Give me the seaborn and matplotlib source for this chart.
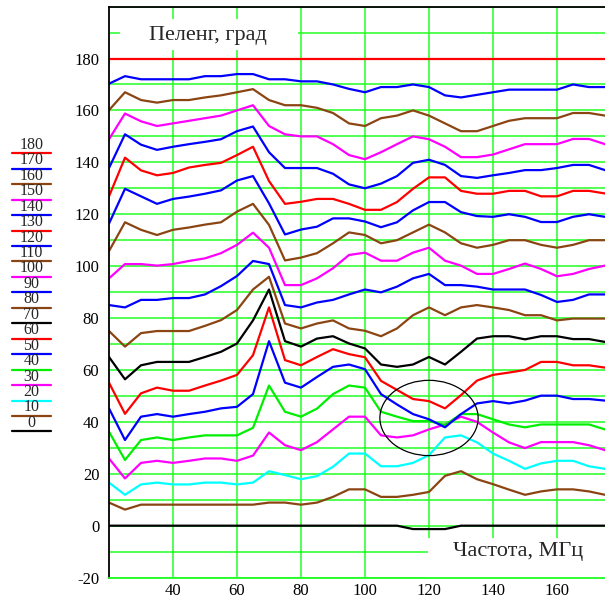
import pandas as pd
import matplotlib.pyplot as plt
import seaborn as sns
from matplotlib.patches import Ellipse, Rectangle
from matplotlib.ticker import FixedLocator, MultipleLocator

# frequency, MHz
freq = list(range(20, 180, 5))

# measured bearing per true bearing (deg)
b0 = [0] * 19 + [-1.3, -1.3, -1.3] + [0] * 10
b10 = [8.9, 6.2, 8.1, 8.1, 8.1, 8.1, 8.1, 8.1, 8.1, 8.1, 8.9, 8.9, 8.1, 8.9, 11.1, 14,
       14, 11.1, 11.1, 11.9, 13, 19.2, 21, 17.9, 16, 13.9, 11.9, 13.2, 14, 14, 13.2, 11.9]
b20 = [16.6, 11.9, 15.9, 16.6, 15.9, 15.9, 16.6, 16.6, 15.9, 16.6, 21, 19.5, 17.9, 19.1, 22.7, 27.8,
       27.8, 22.9, 22.9, 24.2, 27.2, 34, 34.8, 32.1, 27.8, 25, 21.9, 24, 25, 25, 22.9, 21.9]
b30 = [25.9, 18.2, 24.2, 25, 24.2, 25, 25.9, 25.9, 25, 27, 35.9, 31, 29.1, 32.2, 37.1, 42,
       42, 34.8, 34, 34.8, 37.1, 39, 42, 40, 35.9, 32.1, 29.9, 32.2, 32.2, 32.2, 31, 29.1]
b40 = [36.2, 25.3, 33, 34, 33, 34, 34.8, 34.8, 34.8, 37.7, 54, 43.9, 42, 45.1, 50.7, 54,
       53.2, 43.9, 42, 40.3, 40.3, 38.8, 43, 43, 41, 39, 37.9, 39, 39, 39, 39, 37.1]
b50 = [45.2, 33, 42, 43, 42, 43, 43.9, 45.2, 45.8, 50.7, 71.1, 55.1, 53.2, 57.3, 61.2, 62.1,
       60.3, 50.7, 46.7, 43, 41, 37.9, 43, 47.1, 48, 47.1, 48.2, 50.1, 50.1, 48.8, 48.8, 48.2]
b60 = [55.1, 43.1, 51, 53.2, 52, 52, 54, 55.9, 58.1, 65.7, 84.1, 63.8, 61.8, 65, 68, 66.1,
       64.9, 55.8, 52.3, 48.8, 48, 45.2, 50.3, 55.9, 58.1, 59, 60, 63.1, 63.1, 61.8, 61.8, 60.9]
b70 = [65, 56.4, 61.8, 63.1, 63.1, 63.1, 65, 67, 70.2, 79.1, 91, 71.1, 69, 72.1, 73, 70.2,
       68.3, 62.1, 61.2, 62.1, 65, 62.1, 67, 72.1, 73, 73, 71.8, 73, 73, 71.9, 71.9, 70.8]
b80 = [75, 69, 74.2, 75, 75, 75, 77, 79.2, 83.1, 91, 95.9, 77.9, 76, 77.9, 79.1, 76,
       75.1, 73, 76, 81.1, 84.1, 81.1, 84.1, 85, 84.1, 83.1, 81.1, 81.1, 79.1, 79.8, 79.8, 79.8]
b90 = [85, 84.1, 87, 87, 87.7, 87.7, 89.1, 92.3, 96.2, 102, 100.8, 85, 84.1, 86, 87, 89.1,
       91, 89.9, 92.1, 95.3, 97, 92.7, 92.7, 92.1, 91, 91, 91, 88.9, 86.2, 87, 89.1, 89.1]
b100 = [95.3, 100.8, 100.8, 100.2, 100.8, 102, 103, 105, 108.2, 112.9, 107.1, 92.7, 92.7, 95.3, 99.2, 104.3,
        105.2, 102.1, 102.1, 105.2, 107.1, 102.1, 100.2, 97, 97, 98.9, 101, 98.9, 96.1, 97, 98.9, 100.2]
b110 = [105.8, 116.9, 114, 112, 114, 114.9, 116, 116.9, 121, 124, 115.9, 102.2, 103.3, 105, 108.8, 113,
        112, 108.8, 110, 113, 116, 113, 108.8, 107.1, 108.2, 110, 110, 108.2, 107.1, 108.2, 110, 110]
b120 = [116.4, 129.8, 126.9, 124, 125.9, 126.8, 127.9, 129.2, 133, 134.7, 124.2, 112.2, 114.1, 115.2, 118.4, 118.4,
        117.2, 115, 116.9, 121.5, 124.7, 124.7, 120.8, 119.3, 119, 120, 119, 117, 117, 119, 120, 119]
b130 = [126.9, 141.8, 136.9, 135, 135.9, 138, 139, 139.8, 142.8, 146, 132.8, 124, 124.8, 125.9, 125.9, 124,
        121.7, 121.7, 124.7, 129.8, 134.2, 134.2, 129, 127.9, 127.9, 129, 129, 126.9, 126.9, 129, 129, 128]
b140 = [137.8, 150.8, 146.8, 144.8, 146, 147, 147.9, 148.9, 152, 153.8, 143.9, 137.8, 137.8, 137.8, 135.6, 131.5,
        130, 131.8, 134.7, 139.8, 141, 139, 134.7, 134, 135, 135.9, 137, 137, 137.8, 139, 139, 137]
b150 = [148.9, 158.8, 155.8, 154, 155, 156, 157, 158, 160, 162, 154, 150.8, 150, 150, 147, 142.8,
        141.2, 143.9, 147, 150, 148.9, 146, 142, 142, 143, 145, 147, 147, 147, 149, 149, 147]
b160 = [160.1, 167, 164, 163, 164, 164, 165, 165.8, 167, 168.2, 164, 162, 162, 161, 159, 155,
        154, 157, 158, 160, 158, 155, 152, 152, 154, 156, 157, 157, 157, 159, 159, 158]
b170 = [170.3, 173.2, 172, 172, 172, 172, 173.2, 173.2, 174, 174, 172, 172, 171.2, 171.2, 170, 168.3,
        167, 169, 169, 170, 169, 165.8, 165, 166, 167, 168, 168, 168, 168, 170, 169, 169]
b180 = [180] * 32

bearings = [0, 10, 20, 30, 40, 50, 60, 70, 80, 90, 100, 110, 120, 130, 140, 150, 160, 170, 180]
series = [b0, b10, b20, b30, b40, b50, b60, b70, b80, b90, b100,
          b110, b120, b130, b140, b150, b160, b170, b180]

RED, BLUE, BROWN, MAG, GREEN, CYAN, BLACK = ("#ff0000", "#0000ff", "#8b4513",
                                            "#ff00ff", "#00ee00", "#00ffff", "#000000")
colors = [BLACK, BROWN, CYAN, MAG, GREEN, BLUE, RED, BLACK, BROWN, BLUE, MAG,
          BROWN, BLUE, RED, BLUE, MAG, BROWN, BLUE, RED]
palette = dict(zip(bearings, colors))

# ellipse marking the crossing region (centre MHz, deg; width, height)
ell_center = (120, 41.5)
ell_size = (30.7, 29)

df = pd.concat(
    [pd.DataFrame({"freq": freq, "value": s, "bearing": b}) for b, s in zip(bearings, series)],
    ignore_index=True,
)

sns.set_theme(style="white")
plt.rcParams["font.family"] = ["Liberation Serif", "DejaVu Serif"]
plt.rcParams["axes.unicode_minus"] = False

grid_green = "#22ff22"

fig = plt.figure(figsize=(6.05, 6.05), dpi=100)
ax = fig.add_axes([109 / 605, 1 - 577.6 / 605, 496 / 605, 571 / 605])

sns.lineplot(data=df, x="freq", y="value", hue="bearing", palette=palette,
             hue_order=bearings, legend=False, estimator=None, sort=False,
             lw=1.6, ax=ax, zorder=2)

ax.set_xlim(20, 175)
ax.set_ylim(-20, 200)
ax.xaxis.set_major_locator(FixedLocator([40, 60, 80, 100, 120, 140, 160]))
ax.yaxis.set_major_locator(FixedLocator(list(range(-20, 181, 20))))
ax.yaxis.set_minor_locator(MultipleLocator(10))
ax.set_axisbelow(True)
ax.grid(axis="x", which="major", color=grid_green, lw=1.1)
ax.grid(axis="y", which="both", color=grid_green, lw=1.1)
ax.tick_params(axis="both", which="both", length=0, labelsize=12, colors="black")
ax.tick_params(axis="y", pad=7)
ax.tick_params(axis="x", pad=4)
ax.set_xlabel("")
ax.set_ylabel("")

for side in ["left", "top"]:
    ax.spines[side].set_color("black")
    ax.spines[side].set_linewidth(1.3)
ax.spines["right"].set_visible(False)
ax.spines["bottom"].set_color(grid_green)
ax.spines["bottom"].set_linewidth(1.3)

# white boxes behind the axis captions
ax.add_patch(Rectangle((0.022, 0.924), 0.36, 0.055, transform=ax.transAxes,
                       facecolor="white", edgecolor="none", zorder=1))
ax.add_patch(Rectangle((0.643, 0.0), 0.357, 0.069, transform=ax.transAxes,
                       facecolor="white", edgecolor="none", zorder=1))
ax.text(0.2, 0.95, "Пеленг, град", transform=ax.transAxes, ha="center",
        va="center", fontsize=16, zorder=3)
ax.text(0.824, 0.045, "Частота, МГц", transform=ax.transAxes, ha="center",
        va="center", fontsize=16, zorder=3)

ax.add_patch(Ellipse(ell_center, ell_size[0], ell_size[1], fill=False,
                     ec="black", lw=0.9, zorder=3))

# legend column on the left: label above a short line
lax = fig.add_axes([0, 0, 109 / 605, 1])
lax.set_xlim(0, 109)
lax.set_ylim(605, 0)
lax.axis("off")
for i, (b, c) in enumerate(zip(bearings[::-1], colors[::-1])):
    y = 153.3 + i * 15.45
    lax.plot([12, 51], [y, y], color=c, lw=1.6)
    lax.text(31.5, y - 0.5, str(b), ha="center", va="bottom", fontsize=11.5)

fig.savefig("out.png", dpi=100)
